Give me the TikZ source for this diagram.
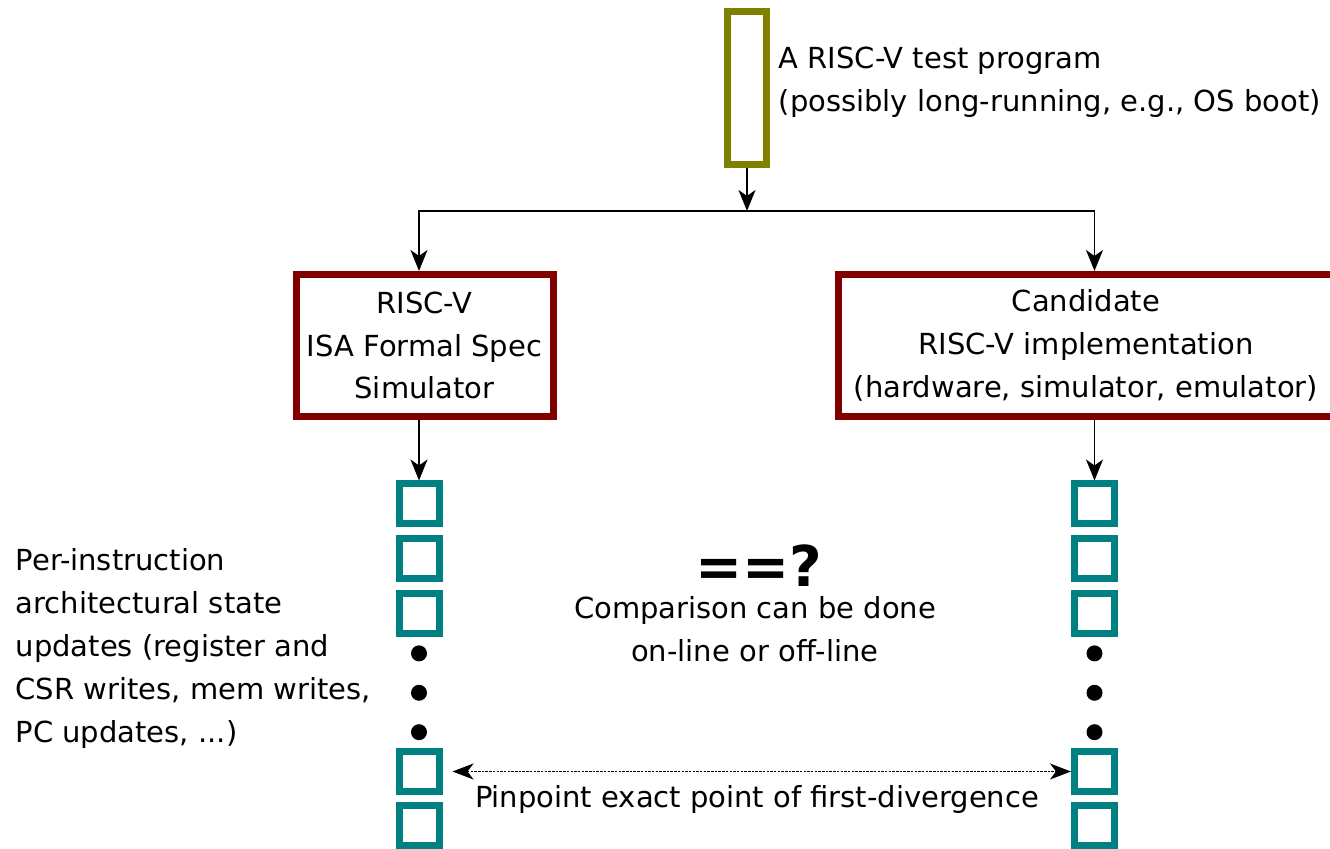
\documentclass[tikz,border=0pt]{standalone}
\usepackage{fontspec}
\setmainfont{DejaVu Sans}
\usetikzlibrary{arrows.meta,positioning}
\definecolor{progcol}{HTML}{808000}
\definecolor{simcol}{HTML}{800000}
\definecolor{slotcol}{HTML}{008080}

\begin{document}
\begin{tikzpicture}[
    every node/.style={font=\fontsize{8.25pt}{12.2pt}\selectfont},
    simbox/.style={draw=simcol, line width=0.7mm, align=center, minimum height=1.42cm, inner sep=0pt},
    slot/.style={draw=slotcol, line width=0.7mm, minimum size=0.40cm, inner sep=0pt},
    link/.style={line width=0.5pt, -{Stealth[length=2.1mm,width=1.7mm,inset=0.6mm]}}
  ]
  \useasboundingbox (0,0) rectangle (13.30,8.49);
  \clip (0,0) rectangle (13.30,8.49);

  % Test program
  \node[draw=progcol, line width=0.7mm, minimum width=0.39cm, minimum height=1.53cm, inner sep=0pt] (prog) at (7.47,7.61) {};
  \node[anchor=west, align=left, inner sep=0pt] (progtext) at (7.78,7.665) {A RISC-V test program\\(possibly long-running, e.g., OS boot)};
  \coordinate (split) at (7.47,6.38);

  % Simulators
  \node[simbox, minimum width=2.57cm] (spec) at (4.245,5.035) {RISC-V\\ISA Formal Spec\\Simulator};
  \node[simbox, minimum width=4.95cm] (impl) at (10.86,5.035) {Candidate\\RISC-V implementation\\(hardware, simulator, emulator)};

  % State updates
  \foreach \y [count=\i] in {3.45,2.90,2.35,0.775,0.23} {
    \node[slot] (l\i) at (4.19,\y) {};
    \node[slot] (r\i) at (10.945,\y) {};
  }
  \foreach \y in {1.956,1.562,1.168} {
    \fill (4.19,\y) circle (0.08);
    \fill (10.945,\y) circle (0.08);
  }

  % Connectors
  \draw[link] (prog) -- (split);
  \draw[link] (split) -| (spec.north -| l1);
  \draw[link] (split) -| (impl.north -| r1);
  \draw[link] (spec.south -| l1) -- (l1);
  \draw[link] (impl.south -| r1) -- (r1);
  \draw[line width=0.45pt, dash pattern=on 0.25mm off 0.12mm,
    {Stealth[length=2.1mm,width=1.6mm,inset=0.6mm]}-{Stealth[length=2.1mm,width=1.6mm,inset=0.6mm]}, shorten <=1mm] (l4) -- (r4);

  % Labels
  \node[inner sep=0pt] (pinpt) at (7.57,0.49) {Pinpoint exact point of first-divergence};
  \node[inner sep=0pt, font=\fontsize{16pt}{19pt}\selectfont\bfseries] (eqq) at (7.585,2.835) {==?};
  \node[align=center, inner sep=0pt] (cmp) at (7.55,2.20) {Comparison can be done\\on-line or off-line};
  \node[anchor=west, align=left, inner sep=0pt] (notes) at (0.15,2.005) {Per-instruction\\architectural state\\updates (register and\\CSR writes, mem writes,\\PC updates, ...)};
\end{tikzpicture}
\end{document}
